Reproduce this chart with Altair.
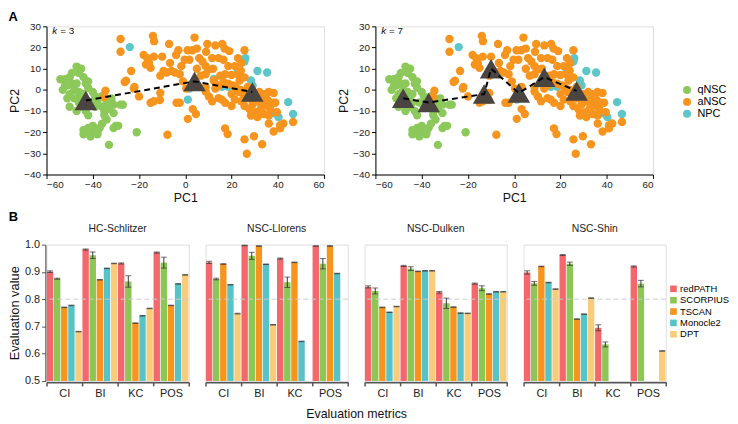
import altair as alt
import pandas as pd

# ---------------- Panel A data (PCA scatter) ----------------
green_x = [-47, -46, -44, -43, -52, -54, -50, -49, -52, -48, -46, -50, -48, -44, -42, -40, -39, -38, -41, -45,
           -47, -43, -44, -36, -34, -32, -31, -33, -35, -34, -31, -28, -30, -31, -37, -38, -40, -41, -43, -44,
           -42, -36, -33, -21, -51, -53, -50, -45, -47, -42, -39, -36, -45, -49, -51, -46, -42, -40, -29, -27,
           -32, -35, -44, -38]
green_y = [11, 8, 6, 3, 5, 5, 6, 3, 2, 0, -1, -2, -4, -2, 1, -1, -3, -5, -6, -8,
           -10, -10, -6, -3, -6, -4, -7, -9, -12, -14, -11, -7, -17, -18, -18, -21, -20, -22, -20, -21,
           -18, -16, -26, -20, -4, 0, -8, -3, 3, 4, -8, -8, 10, 8, 2, -6, -12, -17, -17, -7,
           -5, -10, -19, -20]

orange_x = [-28, -28, -14, -13.5, -7, -3, -4, 4, 1, 3, 5, 9.5, 9, 13, 16, 17, 19, 25.6,
            -18, -16.4, -13.6, -10, -17, -15, -15.7, -23.4, -26.2, -22, -20, -34.5, -35, -10.8, -10.8, -6.6,
            -6, -4.5, -2.4, -1.7, -0.3, 1.8, 6, 7.4, 8.8, 10.2, 11.6, 14.4, 16.5, 18.6, 21.4, 24.2, 22.8,
            17.2, 15.1, 12.3, 13, 14.4, 16.5, 18.6, 20.7, 23.5, 25.6, 27,
            10.2, 11.6, 14.4, 15.8, 17.2, 20, 21.4, 24.2, 25.6, 27.7, 29.1, 31.2, 33.3, 35.5, 37.5, 38.2,
            35.5, 32.6, 30.5, 28.4, 31.2, 34, 36.1, 36.8, 38.9, 39.6, 36.1, 41, 42.4, 41, 38.2, 46.6,
            17.2, 18.3, 4.6, 3.2, 1.1, -2.4, -3.8, 0.4, 3.2, 8.8, 8.8, -15, -13.6, -7.7, 25.6, 29.7,
            33.2, 26.6, -9.4, -8, 8.8, 6.7, 22.8, 26, 28, 30, 32, 34, 27, 30, 33, 25, 23, 20, 36, 24, 22,
            -11, -1, 5, 12, 20, 24, -25.6, -22.2]
orange_y = [24, 18, 25.5, 23, 21.7, 18.7, 16.5, 24.7, 18.7, 18.7, 19.5, 21.7, 18, 21, 21.7, 19.5, 18.3, 18.7,
            16.5, 15, 15.7, 15.7, 12, 10.4, 12.7, 8.9, 3.7, 1.4, -3.1, -0.4, -3.4, 6.7, -1.5, 12.7,
            8.9, 8.2, 7.4, 11.2, 14.2, 14.2, 15, 13.4, 11.2, 9.7, 15, 15, 14.2, 11.2, 11.2, 12.7, 7.4,
            7.4, 6.7, 4.4, 0.6, 2.1, 3.6, 2.9, 2.1, 4.4, 5.9, 1.4,
            -3.1, -5.4, -3.9, -4.6, -6.1, -7.6, -4.6, -5.4, -7.6, -9.1, -6.9, -5.4, -4.6, -4.6, -6.1, -1.5,
            -7.6, -9.1, -10.6, -12.1, -12.9, -11.4, -12.1, -9.1, -6.1, -10.6, -15.9, -16.7, -15.9, -18.2, -19.7, -15.2,
            -18.2, -20.9, -11.4, -9.1, -13.7, -6.1, -6.1, 0.6, 1.4, -0.8, 1.4, -6.1, -5.4, -21.2, -23.4, -21.9,
            -25.7, -30.2, 8.9, 8.2, 7.4, 6.7, 15, -1, -3, -2, -1, -2, -4, -4, -7, -2, -1, -2, -1, 0, 1,
            -4.8, 4, 10, 10, 7, 9, 4.3, 0.6]

cyan_x = [-24, 25.6, 31.2, 35.4, 28.4, 29.1, 12.3, 15.8, 1.8, 1.1, 44.5, 46.6, 40.3, 22.8, 18.6, 26, 33, 38]
cyan_y = [20.2, 13.4, 8.9, 8.2, 4.4, 2.1, 5.2, 1.4, 0.6, -4.6, -5.8, -11.4, -12.9, 9.1, 1.4, 15, -2, -11]

k3_x = [-43, 4, 29]
k3_y = [-5, 4, -1]
k7_x = [-48, -37, -13, -10, 2, 13, 27]
k7_y = [-4, -6, -2, 10, -1.5, 6, -0.5]

cell_types = ["qNSC", "aNSC", "NPC"]
cell_colors = ["#8cc85a", "#f7941d", "#5ec5c8"]

# ---------------- Panel B data (evaluation bars) ----------------
datasets = ["HC-Schlitzer", "NSC-Llorens", "NSC-Dulken", "NSC-Shin"]
metrics = ["CI", "BI", "KC", "POS"]
methods = ["redPATH", "SCORPIUS", "TSCAN", "Monocle2", "DPT"]
method_colors = ["#f4686d", "#8cc654", "#f7941e", "#55c3c8", "#f9cc7c"]

hc_values = [[0.901, 0.982, 0.931, 0.971],
             [0.875, 0.961, 0.865, 0.934],
             [0.770, 0.871, 0.712, 0.777],
             [0.777, 0.913, 0.739, 0.856],
             [0.681, 0.931, 0.766, 0.889]]
hc_errors = [[0.003, 0.002, 0.002, 0.002],
             [0.002, 0.012, 0.021, 0.020],
             [0.001, 0.001, 0.001, 0.001],
             [0.001, 0.001, 0.001, 0.001],
             [0.001, 0.001, 0.001, 0.001]]
llorens_values = [[0.935, 0.997, 0.949, 0.995],
                  [0.874, 0.959, 0.862, 0.930],
                  [0.929, 0.995, 0.935, 0.995],
                  [0.853, 0.928, 0.645, 0.894],
                  [0.747, 0.706, None, None]]
llorens_errors = [[0.004, 0.001, 0.002, 0.001],
                  [0.003, 0.013, 0.019, 0.019],
                  [0.001, 0.001, 0.001, 0.001],
                  [0.001, 0.001, 0.001, 0.001],
                  [0.001, 0.001, 0.0, 0.0]]
dulken_values = [[0.845, 0.922, 0.825, 0.857],
                 [0.830, 0.912, 0.785, 0.840],
                 [0.770, 0.902, 0.771, 0.819],
                 [0.752, 0.904, 0.749, 0.827],
                 [0.773, 0.904, 0.748, 0.827]]
dulken_errors = [[0.004, 0.002, 0.003, 0.002],
                 [0.011, 0.007, 0.019, 0.009],
                 [0.001, 0.001, 0.001, 0.001],
                 [0.001, 0.001, 0.001, 0.001],
                 [0.001, 0.001, 0.001, 0.001]]
shin_values = [[0.898, 0.962, 0.695, 0.920],
               [0.858, 0.930, 0.634, 0.857],
               [0.920, 0.727, None, None],
               [0.861, 0.745, None, None],
               [0.837, 0.804, None, 0.610]]
shin_errors = [[0.006, 0.002, 0.011, 0.002],
               [0.007, 0.006, 0.009, 0.012],
               [0.001, 0.001, 0.0, 0.0],
               [0.001, 0.001, 0.0, 0.0],
               [0.001, 0.001, 0.0, 0.001]]

all_values = [hc_values, llorens_values, dulken_values, shin_values]
all_errors = [hc_errors, llorens_errors, dulken_errors, shin_errors]

rows = []
for d, vals, errs in zip(datasets, all_values, all_errors):
    for mi, m in enumerate(methods):
        for ki, k in enumerate(metrics):
            v = vals[mi][ki]
            if v is None:
                continue
            e = errs[mi][ki]
            rows.append({"dataset": d, "method": m, "metric": k, "value": v,
                         "lo": v - e, "hi": min(v + e, 1.0)})
bar_df = pd.DataFrame(rows)

FONT = "Liberation Sans"

# ---------------- scatter panels ----------------
scatter_df = pd.DataFrame({
    "PC1": green_x + orange_x + cyan_x,
    "PC2": green_y + orange_y + cyan_y,
    "cell": ["qNSC"] * len(green_x) + ["aNSC"] * len(orange_x) + ["NPC"] * len(cyan_x),
    "rank": [0] * len(green_x) + [2] * len(orange_x) + [1] * len(cyan_x),
})

xscale = alt.Scale(domain=[-60, 60], nice=False, zero=False)
yscale = alt.Scale(domain=[-40, 30], nice=False, zero=False)
xaxis = alt.Axis(values=[-60, -40, -20, 0, 20, 40, 60], title="PC1", grid=False, tickSize=4,
                 labelOverlap=False, labelFontSize=10, titleFontSize=12.5, titleFontWeight="normal",
                 labelPadding=1, titlePadding=2, domainColor="#000", tickColor="#000",
                 labelColor="#222", titleColor="#111")
yaxis = alt.Axis(values=[-40, -30, -20, -10, 0, 10, 20, 30], title="PC2", grid=False, tickSize=4,
                 labelOverlap=False, labelFontSize=10, titleFontSize=12.5, titleFontWeight="normal",
                 labelPadding=2, titlePadding=2, domainColor="#000", tickColor="#000",
                 labelColor="#222", titleColor="#111")


def sx(field):
    return alt.X(field, type="quantitative", scale=xscale, axis=xaxis)


def sy(field):
    return alt.Y(field, type="quantitative", scale=yscale, axis=yaxis)


def scatter(cx, cy, klabel):
    pts = alt.Chart(scatter_df).mark_circle(size=72, opacity=1).encode(
        x=sx("PC1"), y=sy("PC2"),
        color=alt.Color("cell:N", scale=alt.Scale(domain=cell_types, range=cell_colors),
                        legend=alt.Legend(title=None, orient="none", legendX=643, legendY=59,
                                          symbolType="circle", symbolSize=64, labelFontSize=11,
                                          rowPadding=0, labelOffset=5, symbolStrokeWidth=0)),
        order=alt.Order("rank:Q"),
    )
    cdf = pd.DataFrame({"PC1": cx, "PC2": cy, "i": list(range(len(cx)))})
    tri = alt.Chart(cdf).mark_point(shape="triangle-up", size=520, filled=True,
                                    color="#4b4541", opacity=1).encode(x=sx("PC1"), y=sy("PC2"))
    line = alt.Chart(cdf).mark_line(color="#000", strokeDash=[6, 4], strokeWidth=2).encode(
        x=sx("PC1"), y=sy("PC2"), order="i:Q")
    tdf = pd.DataFrame({"PC1": [-57.5], "PC2": [27.8]})
    k1 = alt.Chart(tdf).mark_text(text="k", fontStyle="italic", fontSize=10, align="left",
                                  font=FONT, color="#111").encode(x=sx("PC1"), y=sy("PC2"))
    k2 = alt.Chart(tdf).mark_text(text=klabel, fontSize=10, align="left", dx=8,
                                  font=FONT, color="#111").encode(x=sx("PC1"), y=sy("PC2"))
    return alt.layer(pts, tri, line, k1, k2).properties(width=281, height=150)


top = alt.hconcat(scatter(k3_x, k3_y, "= 3"), scatter(k7_x, k7_y, "= 7"), spacing=12).properties(
    title=alt.TitleParams("A", anchor="start", fontSize=13, fontWeight="bold", offset=-3, font=FONT))

# ---------------- bar panels ----------------
xb = alt.X("metric:N", sort=metrics, scale=alt.Scale(domain=metrics, paddingInner=0, paddingOuter=0),
           axis=alt.Axis(title=None, tickBand="extent", labelAngle=0, domainColor="#555", domainWidth=2,
                         tickColor="#555", tickWidth=1.5, tickSize=4, labelFontSize=11, labelPadding=2,
                         labelColor="#222"))
xo = alt.XOffset("method:N", sort=methods,
                 scale=alt.Scale(domain=methods, paddingInner=0.1, paddingOuter=0.05))
ybscale = alt.Scale(domain=[0.5, 1.0], nice=False, zero=False)
ybaxis = alt.Axis(values=[0.5, 0.6, 0.7, 0.8, 0.9, 1.0], format=".1f", title="Evaluation value",
                  grid=False, tickSize=4, domainColor="#555", domainWidth=1.5, tickColor="#555",
                  labelOverlap=False, labelFontSize=11, titleFontSize=13, titleFontWeight="normal",
                  labelPadding=2, titlePadding=3, labelColor="#222", titleColor="#111")


def by(field):
    return alt.Y(field, type="quantitative", scale=ybscale, axis=ybaxis)


bars = alt.Chart().mark_bar().encode(
    x=xb, xOffset=xo, y=by("value"), y2=alt.datum(0.5),
    color=alt.Color("method:N", scale=alt.Scale(domain=methods, range=method_colors),
                    legend=alt.Legend(title=None, orient="none", legendX=630, legendY=40,
                                      symbolType="square", symbolSize=45, labelFontSize=9.5,
                                      rowPadding=0.5, labelOffset=2, symbolStrokeWidth=0)),
)
ref = alt.Chart().transform_aggregate(n="count()").transform_calculate(v="0.8").mark_rule(
    color="#cccccc", strokeDash=[5, 3], strokeWidth=1).encode(y=by("v"))
err = alt.Chart().mark_rule(color="#333", strokeWidth=1).encode(
    x=xb, xOffset=xo, y=by("lo"), y2="hi:Q")
cap_lo = alt.Chart().mark_tick(color="#333", thickness=1, size=6).encode(x=xb, xOffset=xo, y=by("lo"))
cap_hi = alt.Chart().mark_tick(color="#333", thickness=1, size=6).encode(x=xb, xOffset=xo, y=by("hi"))

bottom = alt.layer(bars, ref, err, cap_lo, cap_hi, data=bar_df).properties(
    width=144, height=138).facet(
    column=alt.Column("dataset:N", sort=datasets,
                      header=alt.Header(title="Evaluation metrics", titleOrient="bottom", labelOrient="top",
                                        labelFontSize=10.5, titleFontSize=12.5, titleFontWeight="normal",
                                        labelPadding=9, titlePadding=0, labelColor="#222",
                                        titleColor="#111", labelFont=FONT, titleFont=FONT)),
    spacing=15,
).properties(title=alt.TitleParams("B", anchor="start", fontSize=13, fontWeight="bold", offset=0, font=FONT))

chart = alt.vconcat(top, bottom, spacing=7).resolve_scale(color="independent").resolve_legend(
    color="independent").properties(padding=0).configure_view(
    stroke="transparent", strokeWidth=0).configure(font=FONT).configure_axis(
    labelFont=FONT, titleFont=FONT, labelOverlap=False).configure_legend(labelFont=FONT)

chart.save("out.html", embed_options={"renderer": "svg", "actions": False})
